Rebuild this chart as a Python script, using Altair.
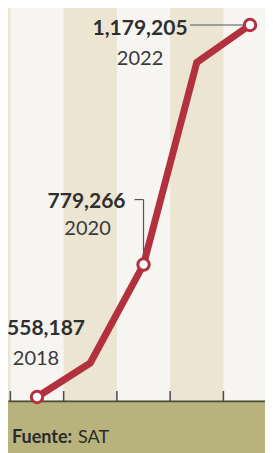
import altair as alt
import pandas as pd

# ---- data ----
years = [2018, 2019, 2020, 2021, 2022]
values = [558187, 615000, 779266, 1117000, 1179205]
labeled_years = [2018, 2020, 2022]
stripe_years = [2017, 2019, 2021, 2023]
tick_years = [2017.5, 2018.5, 2019.5, 2020.5, 2021.5]
source_bold = "Fuente:"
source_rest = "SAT"

# ---- styling ----
W, H = 257, 392
RED = "#b3303e"
BEIGE = "#ebe5d2"
PAPER = "#f6f5f1"
OLIVE = "#b8b37c"
INK = "#2f2f2f"
FONT = "Lato"

df = pd.DataFrame({"year": years, "value": values})
lab = df[df["year"].isin(labeled_years)].copy()
lab["num"] = lab["value"].map(lambda v: f"{v:,}")
lab["yr"] = lab["year"].astype(str)
stripes = pd.DataFrame({"year": stripe_years})
ticks = pd.DataFrame({"t": tick_years})
foot = pd.DataFrame({"a": [0]})

xscale = alt.Scale(domain=[2017.455, 2022.281], nice=False, zero=False)
yscale = alt.Scale(domain=[553179, 1207585], nice=False, zero=False)
xaxis = alt.Axis(title=None, labels=False, ticks=False, grid=False, domain=True,
                 domainColor="#4a4a4a", domainWidth=1.5, offset=1)


def X(field):
    return alt.X(field, type="quantitative", scale=xscale, axis=xaxis)


def Y(field):
    return alt.Y(field, type="quantitative", scale=yscale, axis=None)


stripe_layer = alt.Chart(stripes).transform_calculate(
    x0="datum.year - 0.5", x1="datum.year + 0.5"
).mark_rect(color=BEIGE, clip=True).encode(x=X("x0"), x2="x1:Q")

tick_layer = alt.Chart(ticks).mark_rule(color="#4a4a4a", strokeWidth=1.5).encode(
    x=X("t"), y=alt.value(H - 9), y2=alt.value(H + 1)
)

line_layer = alt.Chart(df).mark_line(color=RED, strokeWidth=7).encode(
    x=X("year"), y=Y("value")
)

# label placement per labelled point (pixel offsets from the point)
offs = {
    2018: dict(ndx=9, ndy=-62, ydx=-1, ydy=-32, lead=None),
    2020: dict(ndx=-57, ndy=-57, ydx=-56, ydy=-30, lead="elbow"),
    2022: dict(ndx=-110, ndy=10, ydx=-110, ydy=40, lead="flat"),
}

layers = [stripe_layer, tick_layer, line_layer]

for yr in labeled_years:
    o = offs[yr]
    base = alt.Chart(lab).transform_filter(alt.datum.year == yr)
    if o["lead"] == "flat":
        layers.append(base.mark_rule(color="#555555", strokeWidth=1.2, xOffset=-60, x2Offset=-7).encode(
            x=X("year"), x2="year:Q", y=Y("value")))
    elif o["lead"] == "elbow":
        layers.append(base.mark_rule(color="#555555", strokeWidth=1.2, xOffset=-9, x2Offset=0, yOffset=-65).encode(
            x=X("year"), x2="year:Q", y=Y("value")))
        layers.append(base.mark_rule(color="#555555", strokeWidth=1.2, yOffset=-65, y2Offset=-8).encode(
            x=X("year"), y=Y("value"), y2="value:Q"))
    layers.append(base.mark_text(font=FONT, fontWeight="bold", fontSize=21, color=INK,
                                 align="center", baseline="alphabetic", dx=o["ndx"], dy=o["ndy"]).encode(
        x=X("year"), y=Y("value"), text="num:N"))
    layers.append(base.mark_text(font=FONT, fontSize=20, color="#3a3a3a",
                                 align="center", baseline="alphabetic", dx=o["ydx"], dy=o["ydy"]).encode(
        x=X("year"), y=Y("value"), text="yr:N"))

point_layer = alt.Chart(lab).mark_point(shape="circle", filled=True, fill="white", stroke=RED,
                                        strokeWidth=3, size=130, opacity=1).encode(
    x=X("year"), y=Y("value"))
layers.append(point_layer)

layers.append(alt.Chart(foot).mark_text(text=source_bold, font=FONT, fontWeight="bold", fontSize=18,
                                        color="#2a2a2a", align="left", baseline="alphabetic").encode(
    x=alt.value(4), y=alt.value(435)))
layers.append(alt.Chart(foot).mark_text(text=source_rest, font=FONT, fontSize=18,
                                        color="#2a2a2a", align="left", baseline="alphabetic").encode(
    x=alt.value(70), y=alt.value(435)))

chart = alt.layer(*layers).properties(
    width=W, height=H,
    autosize=alt.AutoSizeParams(type="none"),
    padding={"left": 0, "top": 0, "right": 0, "bottom": 53},
    background=OLIVE,
).configure_view(fill=PAPER, strokeWidth=0)

chart.save("out.html", embed_options={"renderer": "svg", "actions": False})
